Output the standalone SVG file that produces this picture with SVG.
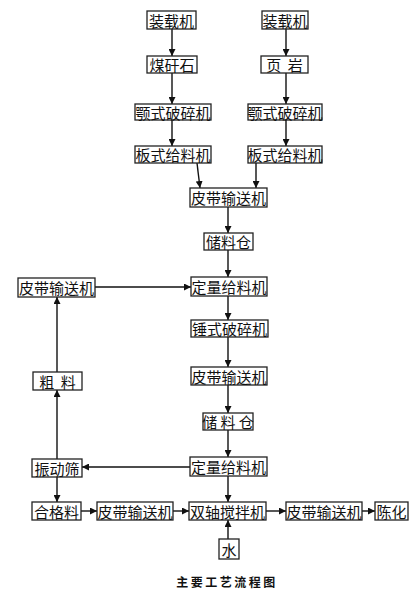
<svg xmlns="http://www.w3.org/2000/svg" width="418" height="594" viewBox="0 0 418 594">
<defs>
<marker id="ah" viewBox="0 0 8 8" refX="8" refY="4" markerWidth="7" markerHeight="7" markerUnits="userSpaceOnUse" orient="auto">
<path d="M0,0 L8,4 L0,8 Z" fill="#111"/>
</marker>
<style>
rect{fill:#fff;stroke:#222;stroke-width:1.3}
text{font-family:"Noto Sans CJK SC","Noto Sans CJK JP",sans-serif;font-size:15px;fill:#111;text-anchor:middle;dominant-baseline:central}
.c line,.c polyline{stroke:#111;stroke-width:1.4;fill:none;marker-end:url(#ah)}
.cap{font-size:12px;font-weight:bold;letter-spacing:2.5px}
</style>
</defs>
<rect x="0" y="0" width="418" height="594" style="fill:#fff;stroke:none"/>
<g class="c" id="connectors">
<line x1="172" y1="29" x2="172" y2="56"/>
<line x1="286" y1="29" x2="286" y2="56"/>
<line x1="172" y1="73" x2="172" y2="104"/>
<line x1="286" y1="73" x2="286" y2="104"/>
<line x1="172" y1="120" x2="172" y2="146"/>
<line x1="286" y1="120" x2="286" y2="146"/>
<line x1="197" y1="163" x2="200" y2="188"/>
<line x1="256" y1="163" x2="256" y2="188"/>
<line x1="228" y1="207" x2="228" y2="233"/>
<line x1="228" y1="250" x2="228" y2="277"/>
<line x1="95" y1="287" x2="191" y2="287"/>
<line x1="228" y1="296" x2="228" y2="320"/>
<line x1="228" y1="337" x2="228" y2="367"/>
<line x1="228" y1="385" x2="228" y2="413"/>
<line x1="228" y1="430" x2="228" y2="457"/>
<line x1="57" y1="372" x2="57" y2="297"/>
<line x1="57" y1="459" x2="57" y2="390"/>
<line x1="190" y1="467" x2="82" y2="467"/>
<line x1="57" y1="477" x2="57" y2="502"/>
<line x1="228" y1="476" x2="228" y2="502"/>
<line x1="81" y1="511" x2="97" y2="511"/>
<line x1="173" y1="511" x2="189" y2="511"/>
<line x1="266" y1="511" x2="286" y2="511"/>
<line x1="362" y1="511" x2="375" y2="511"/>
<line x1="228" y1="539" x2="228" y2="520"/>
</g>
<g id="n1"><rect x="147" y="11" width="49" height="18"/><text x="171.5" y="20">装载机</text></g>
<g id="n2"><rect x="262" y="11" width="46" height="18"/><text x="285" y="20">装载机</text></g>
<g id="n3"><rect x="147" y="56" width="50" height="17"/><text x="172" y="64.5">煤矸石</text></g>
<g id="n4"><rect x="261" y="56" width="47" height="17"/><text x="284.5" y="64.5" xml:space="preserve">页  岩</text></g>
<g id="n5"><rect x="135" y="104" width="76" height="16"/><text x="173" y="112">颚式破碎机</text></g>
<g id="n6"><rect x="248" y="104" width="74" height="16"/><text x="285" y="112">颚式破碎机</text></g>
<g id="n7"><rect x="135" y="146" width="76" height="17"/><text x="173" y="154.5">板式给料机</text></g>
<g id="n8"><rect x="248" y="146" width="74" height="17"/><text x="285" y="154.5">板式给料机</text></g>
<g id="n9"><rect x="190" y="188" width="77" height="19"/><text x="228.5" y="197.5">皮带输送机</text></g>
<g id="n10"><rect x="204" y="233" width="49" height="17"/><text x="228.5" y="241.5">储料仓</text></g>
<g id="n11"><rect x="191" y="277" width="76" height="19"/><text x="229" y="286.5">定量给料机</text></g>
<g id="n12"><rect x="18" y="278" width="77" height="19"/><text x="56.5" y="287.5">皮带输送机</text></g>
<g id="n13"><rect x="191" y="320" width="77" height="17"/><text x="229.5" y="328.5">锤式破碎机</text></g>
<g id="n14"><rect x="191" y="367" width="76" height="18"/><text x="229" y="376">皮带输送机</text></g>
<g id="n15"><rect x="33" y="372" width="49" height="18"/><text x="57.5" y="381" xml:space="preserve">粗  料</text></g>
<g id="n16"><rect x="203" y="413" width="50" height="17"/><text x="228" y="421.5" xml:space="preserve">储 料 仓</text></g>
<g id="n17"><rect x="190" y="457" width="77" height="19"/><text x="228.5" y="466.5">定量给料机</text></g>
<g id="n18"><rect x="32" y="459" width="50" height="18"/><text x="57" y="468">振动筛</text></g>
<g id="n19"><rect x="32" y="502" width="49" height="18"/><text x="56.5" y="511">合格料</text></g>
<g id="n20"><rect x="97" y="502" width="76" height="18"/><text x="135" y="511">皮带输送机</text></g>
<g id="n21"><rect x="189" y="502" width="77" height="18"/><text x="227.5" y="511">双轴搅拌机</text></g>
<g id="n22"><rect x="286" y="502" width="76" height="18"/><text x="324" y="511">皮带输送机</text></g>
<g id="n23"><rect x="375" y="502" width="33" height="18"/><text x="391.5" y="511">陈化</text></g>
<g id="n24"><rect x="219" y="539" width="20" height="20"/><text x="229" y="549">水</text></g>
<text class="cap" x="227" y="581" xml:space="preserve">主要工艺流程图</text>
</svg>
